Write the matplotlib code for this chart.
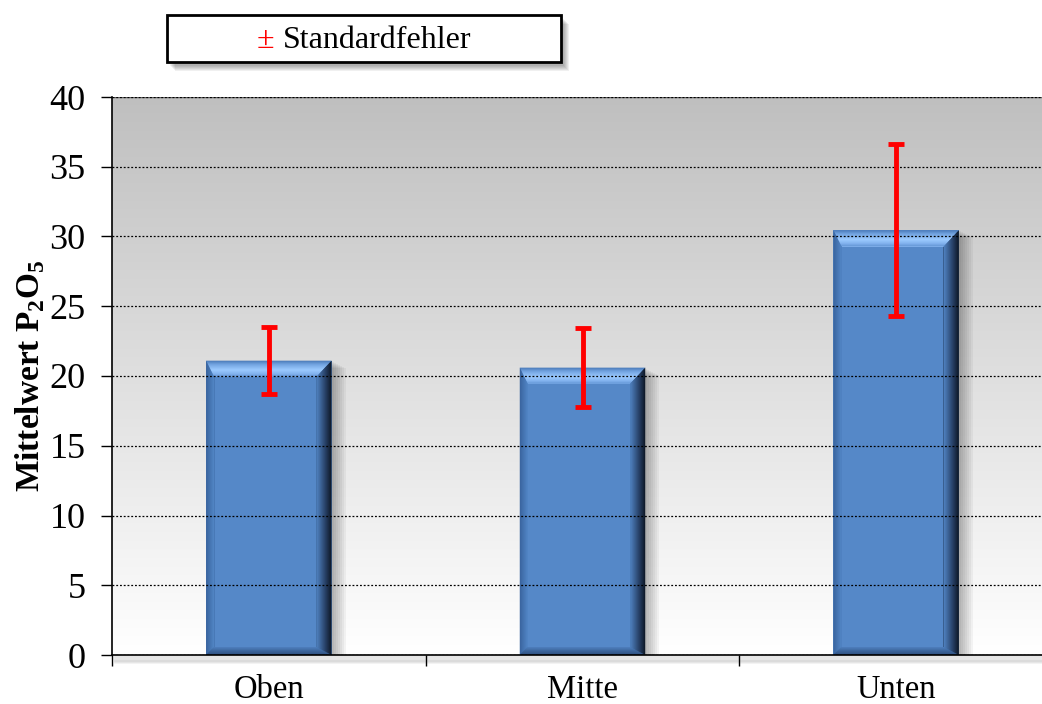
import matplotlib.pyplot as plt
import matplotlib.patches as mpatches
from matplotlib.colors import LinearSegmentedColormap
import numpy as np

plt.rcParams['font.family'] = ['Liberation Serif', 'DejaVu Serif']
plt.rcParams['mathtext.fontset'] = 'custom'
plt.rcParams['mathtext.rm'] = 'Liberation Serif'
plt.rcParams['mathtext.bf'] = 'Liberation Serif:bold'

categories = ['Oben', 'Mitte', 'Unten']
means = [21.1, 20.6, 30.45]
std_err = [2.4, 2.85, 6.15]

face = '#5588c8'
fig = plt.figure(figsize=(10.42, 7.04), dpi=100)
ax = fig.add_axes([112 / 1042, 49 / 704, 941 / 1042, 558 / 704])

x = np.arange(len(categories))
ax.set_xlim(-0.5, 2.5)
ax.set_ylim(0, 40)

# pixel sizes in data units (axes spans 941 x 558 px)
px = 3.0 / 941
py = 40.0 / 558

# background gradient (white at bottom, grey at top)
grad = np.linspace(0, 1, 256).reshape(-1, 1)
bg = 1.0 - 0.25 * grad
ax.imshow(np.dstack([bg, bg, bg]), extent=[-0.5, 2.5, 0, 40], origin='lower',
          aspect='auto', zorder=0)

# bar shadows
for xi, m in zip(x, means):
    for k in range(7):
        off = (2 + 2 * k) * px
        ax.add_patch(mpatches.Rectangle((xi - 0.2 + off, 0), 0.4, m - (k + 1) * py, facecolor='black',
                                        alpha=0.045, lw=0, zorder=1.5))

bars = ax.bar(x, means, width=0.4, color=face, zorder=2, edgecolor='none')

# bevel effect on bars
cm_top = LinearSegmentedColormap.from_list('t', [(0, '#4f7fbd'), (0.2, '#72a3e0'), (0.55, '#9ccaff'), (0.8, '#82b2ee'), (1, '#5f92d2')])
cm_right = LinearSegmentedColormap.from_list('r', [(0, '#0f1a2a'), (0.3, '#22385a'), (0.7, '#3d6498'), (1, '#5184c4')])
cm_left = LinearSegmentedColormap.from_list('l', ['#3a659f', '#5387c7'])
cm_bot = LinearSegmentedColormap.from_list('b', ['#2f5080', '#3d679e', '#4f80bf'])
T, R, L, B = 16, 15, 8, 8
n = 16
for r in bars:
    x0, w, h = r.get_x(), r.get_width(), r.get_height()
    x1 = x0 + w
    ix0, ix1, iy0, iy1 = x0 + L * px, x1 - R * px, B * py, h - T * py
    for k in range(n):
        t = k / n
        a0 = x0 + t * (ix0 - x0)
        a1 = x1 + t * (ix1 - x1)
        b0 = t * iy0
        b1 = h + t * (iy1 - h)
        z = 2.1 + t * 0.1
        ax.add_patch(mpatches.Polygon([(a0, b1), (a1, b1), (ix1, iy1), (ix0, iy1)],
                                      facecolor=cm_top(t), lw=0, zorder=z))
        ax.add_patch(mpatches.Polygon([(a1, b1), (a1, b0), (ix1, iy0), (ix1, iy1)],
                                      facecolor=cm_right(t), lw=0, zorder=z))
        ax.add_patch(mpatches.Polygon([(a0, b1), (a0, b0), (ix0, iy0), (ix0, iy1)],
                                      facecolor=cm_left(t), lw=0, zorder=z))
        ax.add_patch(mpatches.Polygon([(a0, b0), (a1, b0), (ix1, iy0), (ix0, iy0)],
                                      facecolor=cm_bot(t), lw=0, zorder=z))

ax.errorbar(x, means, yerr=std_err, fmt='none', ecolor='red', elinewidth=3.5,
            capsize=6, capthick=3.5, zorder=3)

# grid
ax.set_yticks(range(0, 41, 5))
ax.yaxis.grid(True, linestyle=(0, (1.5, 1.5)), color='black', linewidth=0.9)
ax.set_axisbelow(False)
for gl in ax.get_ygridlines():
    gl.set_zorder(1)
ax.axhline(40, color='#606060', lw=1, zorder=1)

ax.set_xticks(x)
ax.set_xticklabels(categories, fontsize=23.5)
ax.set_xticks([-0.5, 0.5, 1.5, 2.5], minor=True)
ax.tick_params(axis='x', which='major', length=0, pad=14)
ax.tick_params(axis='x', which='minor', length=8, direction='out', width=1)
ax.tick_params(axis='y', length=8, direction='out', width=1, labelsize=26, pad=11)

for s in ['top', 'right']:
    ax.spines[s].set_visible(False)
ax.spines['left'].set_linewidth(1.2)
ax.spines['bottom'].set_linewidth(1.2)

# shadow below the plot area
for k in range(6):
    ax.plot([-0.49, 2.5], [-(1 + k) * py * 1.2] * 2, color='black', alpha=0.05, lw=2,
            clip_on=False, zorder=0.5)

ax.set_ylabel(r'Mittelwert P$_\mathbf{2}$O$_\mathbf{5}$', fontsize=24, fontweight='bold', labelpad=2)

# legend box
lx0, ly0, lw_, lh = 167 / 1042, (704 - 62) / 704, (561 - 167) / 1042, 47 / 704
for k in range(6):
    fig.patches.append(mpatches.Rectangle((lx0 + (3 + k) / 1042, ly0 - (4 + k) / 704), lw_, lh,
                                          transform=fig.transFigure, facecolor='black',
                                          alpha=0.06, lw=0, zorder=1))
fig.patches.append(mpatches.Rectangle((lx0, ly0), lw_, lh, transform=fig.transFigure,
                                      facecolor='white', edgecolor='black', lw=2, zorder=2))
fig.text(257 / 1042, (704 - 40) / 704, '±', color='#ff0000', fontsize=23, va='center', ha='left', zorder=3)
fig.text(283 / 1042, (704 - 40) / 704, 'Standardfehler', color='black', fontsize=23,
         va='center', ha='left', zorder=3)

fig.savefig('out.png', dpi=100)
